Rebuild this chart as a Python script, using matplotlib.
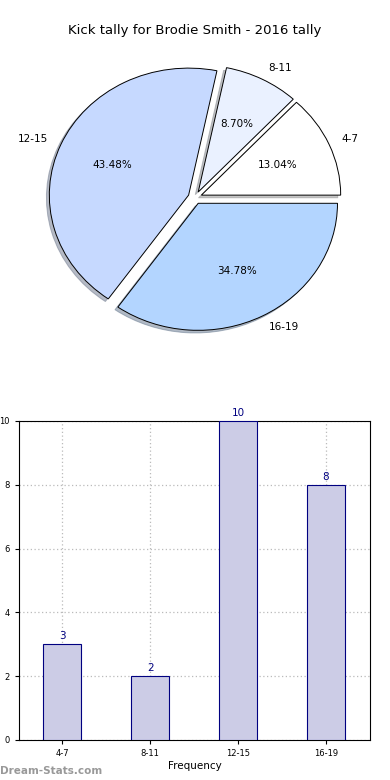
import matplotlib
matplotlib.use("Agg")
import matplotlib.pyplot as plt

# data
categories = ["4-7", "8-11", "12-15", "16-19"]
counts = [3, 2, 10, 8]
pie_colors = ["#ffffff", "#eaf1ff", "#c6d9ff", "#b3d5ff"]

plt.rcParams["font.family"] = ["DejaVu Sans"]

fig = plt.figure(figsize=(3.9, 7.8), dpi=100)

# ── pie ────────────────────────────────────────────────────────────
ax1 = fig.add_axes([0.10, 0.559, 0.80, 0.369])
wedges, texts, autotexts = ax1.pie(
    counts, labels=categories, colors=pie_colors, explode=[0.05] * 4,
    autopct="%1.2f%%", shadow=dict(ox=-0.015, oy=-0.015, shade=0.45),
    startangle=0, counterclock=True,
    wedgeprops=dict(edgecolor="black", linewidth=0.7),
    textprops=dict(fontsize=7.5))
ax1.set_aspect("auto")
ax1.set_xlim(-1.12, 1.12)
ax1.set_ylim(-1.152, 1.114)
fig.text(0.5, 0.961, "Kick tally for Brodie Smith - 2016 tally",
         ha="center", va="center", fontsize=9.5)

# ── bars ───────────────────────────────────────────────────────────
ax2 = fig.add_axes([0.0487, 0.0513, 0.90, 0.409])
x = range(len(categories))
ax2.bar(x, counts, width=0.44, color="#ccccE6", edgecolor="#000080",
        linewidth=0.8, zorder=3)
for xi, c in zip(x, counts):
    ax2.text(xi, c + 0.1, str(c), ha="center", va="bottom",
             color="#000080", fontsize=7.5)
ax2.set_xlim(-0.49, 3.5)
ax2.set_ylim(0, 10)
ax2.set_xticks(list(x))
ax2.set_xticklabels(categories)
ax2.set_yticks(range(0, 11, 2))
ax2.tick_params(labelsize=6, length=3)
ax2.grid(True, ls=(0, (1, 2)), color="#bbbbbb", lw=0.9, zorder=0)
ax2.set_xlabel("Frequency", fontsize=7.5, labelpad=2)
ax2.set_ylabel("Number of Games", fontsize=7)
ax2.yaxis.set_label_coords(-0.055, 0.5)

fig.text(0.0, 0.012, "Dream-Stats.com", color="#999999", fontsize=7.5,
         fontweight="bold", ha="left", va="center")

fig.savefig("out.png", dpi=100)
